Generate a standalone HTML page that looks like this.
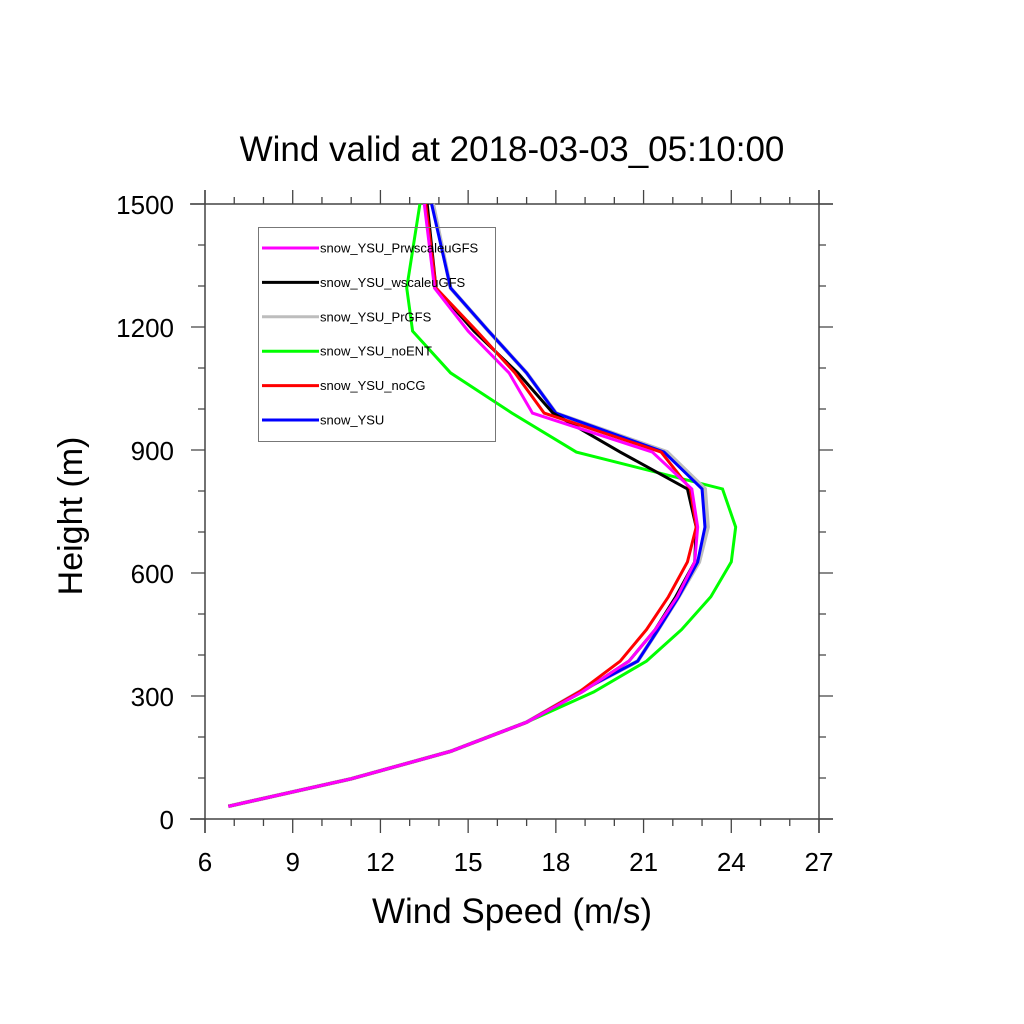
<!DOCTYPE html>
<html><head><meta charset="utf-8"><style>body{margin:0;background:#fff}svg{display:block;font-family:"Liberation Sans",sans-serif}</style></head>
<body>
<svg id="c" width="1024" height="1024" viewBox="0 0 1024 1024">
<text x="512" y="161" font-size="35" text-anchor="middle">Wind valid at 2018-03-03_05:10:00</text>
<text x="512" y="923" font-size="35" text-anchor="middle">Wind Speed (m/s)</text>
<text transform="translate(82,516) rotate(-90)" font-size="34" text-anchor="middle">Height (m)</text>
<g id="axes"></g><g id="series"></g><g id="legend"></g>
</svg>
<script>
const heights=[31,98,165,236,310,385,462,542,627,712,805,895,990,1088,1190,1295,1500];
const seriesNames=["snow_YSU_PrwscaleuGFS","snow_YSU_wscaleuGFS","snow_YSU_PrGFS","snow_YSU_noENT","snow_YSU_noCG","snow_YSU"];
const seriesColors=["#ff00ff","#000000","#bdbdbd","#00ff00","#ff0000","#0000ff"];
const magentaVals=[6.8,11.0,14.4,17.0,18.9,20.5,21.4,22.15,22.75,22.85,22.65,21.3,17.2,16.4,15.0,13.85,13.5];
const blackVals=[6.8,11.0,14.4,17.0,18.9,20.5,21.4,22.1,22.75,22.8,22.5,20.2,17.9,16.7,15.2,13.9,13.6];
const grayVals=[6.8,11.0,14.4,17.0,18.8,20.8,21.5,22.2,22.9,23.2,23.1,21.8,18.0,17.0,15.7,14.4,13.8];
const greenVals=[6.8,11.0,14.4,17.0,19.3,21.1,22.3,23.3,24.0,24.15,23.7,18.7,16.5,14.4,13.1,12.9,13.35];
const redVals=[6.8,11.0,14.4,17.0,18.8,20.2,21.1,21.85,22.5,22.8,22.6,21.6,17.6,16.6,15.3,13.9,13.55];
const blueVals=[6.8,11.0,14.4,17.0,18.8,20.8,21.5,22.2,22.85,23.1,23.0,21.7,18.0,17.0,15.7,14.4,13.75];
const xTicks=[6,9,12,15,18,21,24,27];
const yTicks=[0,300,600,900,1200,1500];
const NS="http://www.w3.org/2000/svg";
const X0=205,X1=819,Y0=819,Y1=204;
const sx=v=>X0+(v-6)/21*(X1-X0);
const sy=v=>Y0-v/1500*(Y0-Y1);
function mk(tag,attrs,parent){const e=document.createElementNS(NS,tag);for(const k in attrs)e.setAttribute(k,attrs[k]);parent.appendChild(e);return e;}
const ax=document.getElementById('axes');
const frame=mk('path',{d:`M${X0-15},${Y0}H${X1+14}M${X0-15},${Y1}H${X1+14}M${X0},${Y1-14}V${Y0+14}M${X1},${Y1-14}V${Y0+14}`,stroke:'#444','stroke-width':1.5,fill:'none'},ax);


let d='';
for(let v=6;v<=27;v++){const x=sx(v);const L=(v%3===0)?14:7;d+=`M${x},${Y0}v${L}M${x},${Y1}v${-L}`;}
for(let v=0;v<=1500;v+=100){const y=sy(v);const L=(v%300===0)?14:7;d+=`M${X0},${y}h${-L}M${X1},${y}h${L}`;}
const tk=mk('path',{d:d,stroke:'#444','stroke-width':1.3,fill:'none'},ax);


xTicks.forEach(v=>{const t=mk('text',{x:sx(v),y:871,'font-size':26,'text-anchor':'middle'},ax);t.textContent=v;

});
yTicks.forEach(v=>{const t=mk('text',{x:174,y:sy(v)+10,'font-size':26,'text-anchor':'end'},ax);t.textContent=v;

});
const vals=[magentaVals,blackVals,grayVals,greenVals,redVals,blueVals];
const widths=[3,3,4,3,3,3];
const order=[3,2,5,1,4,0];
const sg=document.getElementById('series');
order.forEach(i=>{const p=mk('polyline',{points:vals[i].map((v,j)=>sx(v)+','+sy(heights[j])).join(' '),stroke:seriesColors[i],'stroke-width':widths[i],fill:'none','stroke-linejoin':'miter'},sg);

});
const lg=document.getElementById('legend');
const box=mk('rect',{x:258.5,y:227.5,width:237,height:214,fill:'none',stroke:'#777','stroke-width':1},lg);


seriesNames.forEach((n,i)=>{const y=248+i*34.4;
const g=mk('g',{},lg);


mk('line',{x1:262,x2:319,y1:y,y2:y,stroke:seriesColors[i],'stroke-width':3},g);
const t=mk('text',{x:320,y:y+4.5,'font-size':13},g);t.textContent=n;});
</script>
</body></html>
